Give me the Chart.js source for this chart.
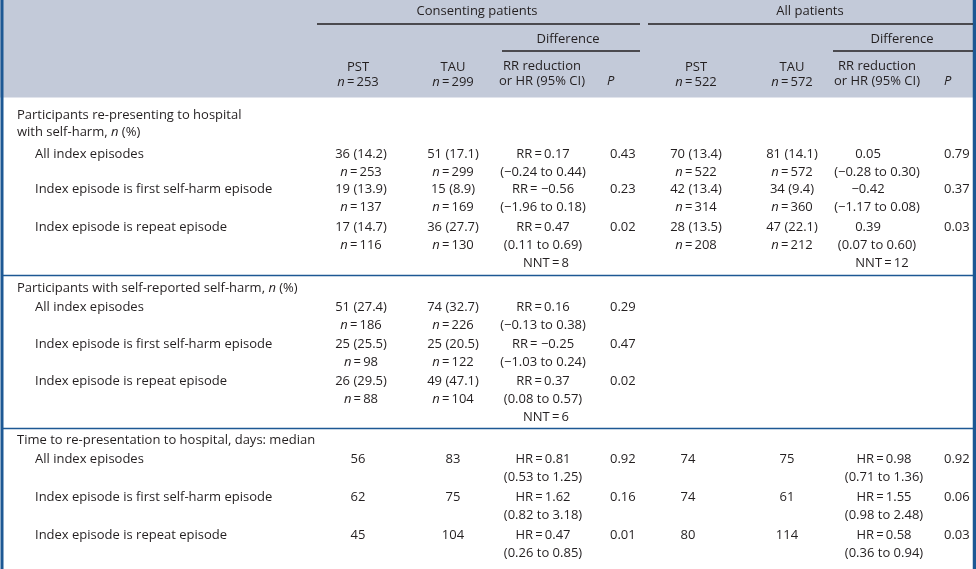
<!DOCTYPE html>
<html>
<head>
<meta charset="utf-8">
<script src="https://cdn.jsdelivr.net/npm/chart.js@4.4.1/dist/chart.umd.min.js"></script>
<style>
  html, body { margin: 0; padding: 0; background: #fff; }
  #wrap { width: 976px; height: 569px; }
</style>
</head>
<body>
<div id="wrap"><canvas id="table1"></canvas></div>
<script>
// table data ("*" toggles italic)

const groupTitles = ["Consenting patients", "All patients"];
const headNumbers = { con: [253, 299], all: [522, 572] };

const sectionTitles = [
  ["Participants re-presenting to hospital", "with self-harm, *n* (%)"],
  ["Participants with self-reported self-harm, *n* (%)"],
  ["Time to re-presentation to hospital, days: median"]
];
const episodeLabels = ["All index episodes", "Index episode is first self-harm episode", "Index episode is repeat episode"];

// 9 rows: 3 sections x 3 episode types
const conPST  = ["36 (14.2)", "19 (13.9)", "17 (14.7)", "51 (27.4)", "25 (25.5)", "26 (29.5)", "56", "62", "45"];
const conPSTn = [253, 137, 116, 186, 98, 88, null, null, null];
const conTAU  = ["51 (17.1)", "15 (8.9)", "36 (27.7)", "74 (32.7)", "25 (20.5)", "49 (47.1)", "83", "75", "104"];
const conTAUn = [299, 169, 130, 226, 122, 104, null, null, null];
const conEst  = ["RR\u2009=\u20090.17", "RR\u2009= \u22120.56", "RR\u2009=\u20090.47", "RR\u2009=\u20090.16", "RR\u2009= \u22120.25", "RR\u2009=\u20090.37", "HR\u2009=\u20090.81", "HR\u2009=\u20091.62", "HR\u2009=\u20090.47"];
const conCI   = ["(\u22120.24 to 0.44)", "(\u22121.96 to 0.18)", "(0.11 to 0.69)", "(\u22120.13 to 0.38)", "(\u22121.03 to 0.24)", "(0.08 to 0.57)", "(0.53 to 1.25)", "(0.82 to 3.18)", "(0.26 to 0.85)"];
const conNNT  = [null, null, 8, null, null, 6, null, null, null];
const conP    = ["0.43", "0.23", "0.02", "0.29", "0.47", "0.02", "0.92", "0.16", "0.01"];

const allPST  = ["70 (13.4)", "42 (13.4)", "28 (13.5)", "", "", "", "74", "74", "80"];
const allPSTn = [522, 314, 208, null, null, null, null, null, null];
const allTAU  = ["81 (14.1)", "34 (9.4)", "47 (22.1)", "", "", "", "75", "61", "114"];
const allTAUn = [572, 360, 212, null, null, null, null, null, null];
const allEst  = ["0.05", "\u22120.42", "0.39", "", "", "", "HR\u2009=\u20090.98", "HR\u2009=\u20091.55", "HR\u2009=\u20090.58"];
const allCI   = ["(\u22120.28 to 0.30)", "(\u22121.17 to 0.08)", "(0.07 to 0.60)", "", "", "", "(0.71 to 1.36)", "(0.98 to 2.48)", "(0.36 to 0.94)"];
const allNNT  = [null, null, 12, null, null, null, null, null, null];
const allP    = ["0.79", "0.37", "0.03", "", "", "", "0.92", "0.06", "0.03"];

// layout (scale units, one per pixel) - per section where it shifts
const colX = {
  conPST: [361, 361, 358], conTAU: [453, 453, 453], conDiff: [543, 543, 543], conP: [610, 610, 610],
  allPST: [696, 696, 688], allTAU: [792, 792, 787], allDiff: [877, 877, 884], allEst: [868, 868, 884], allP: [944, 944, 944]
};
const rowY = [154, 189, 227, 307, 344, 381, 459, 497, 535];
const lineGap = 18;
const sectionTitleY = [[115, 132], [288], [440]];
const titleX = 17, labelX = 35;
const headerBottom = 97.5;
const separatorsY = [275.5, 428.5];

const TEXT = "#231f20";
const BLUE = "#1d5894";
const FONT = '"Open Sans", "Noto Sans", sans-serif';
const FONT_SIZE = 13;

const nEq = n => "*n*\u2009=\u2009" + n;
function cell(x, y, text, align) { return { x: x, y: y, text: text, align: align || "center" }; }

const cells = [];
// header
cells.push(cell(477, 11, groupTitles[0]));
cells.push(cell(810, 11, groupTitles[1]));
cells.push(cell(568, 39, "Difference"));
cells.push(cell(902, 39, "Difference"));
[["con", 358, 453, 542, 607], ["all", 696, 792, 877, 944]].forEach(function (g) {
  cells.push(cell(g[1], 67, "PST"));
  cells.push(cell(g[1], 82, nEq(headNumbers[g[0]][0])));
  cells.push(cell(g[2], 67, "TAU"));
  cells.push(cell(g[2], 82, nEq(headNumbers[g[0]][1])));
  cells.push(cell(g[3], 66, "RR reduction"));
  cells.push(cell(g[3], 81, "or HR (95% CI)"));
  cells.push(cell(g[4], 81, "*P*", "left"));
});
// section titles
sectionTitles.forEach(function (lines, s) {
  lines.forEach(function (t, i) { cells.push(cell(titleX, sectionTitleY[s][i], t, "left")); });
});
// body rows
for (let r = 0; r < rowY.length; r++) {
  const s = Math.floor(r / 3);
  const y = rowY[r];
  cells.push(cell(labelX, y, episodeLabels[r % 3], "left"));
  if (conPST[r]) cells.push(cell(colX.conPST[s], y, conPST[r]));
  if (conPSTn[r]) cells.push(cell(colX.conPST[s], y + lineGap, nEq(conPSTn[r])));
  if (conTAU[r]) cells.push(cell(colX.conTAU[s], y, conTAU[r]));
  if (conTAUn[r]) cells.push(cell(colX.conTAU[s], y + lineGap, nEq(conTAUn[r])));
  if (conEst[r]) cells.push(cell(colX.conDiff[s], y, conEst[r]));
  if (conCI[r]) cells.push(cell(colX.conDiff[s], y + lineGap, conCI[r]));
  if (conNNT[r]) cells.push(cell(colX.conDiff[s] + 3, y + 2 * lineGap, "NNT\u2009=\u2009" + conNNT[r]));
  if (conP[r]) cells.push(cell(colX.conP[s], y, conP[r], "left"));
  if (allPST[r]) cells.push(cell(colX.allPST[s], y, allPST[r]));
  if (allPSTn[r]) cells.push(cell(colX.allPST[s], y + lineGap, nEq(allPSTn[r])));
  if (allTAU[r]) cells.push(cell(colX.allTAU[s], y, allTAU[r]));
  if (allTAUn[r]) cells.push(cell(colX.allTAU[s], y + lineGap, nEq(allTAUn[r])));
  if (allEst[r]) cells.push(cell(colX.allEst[s], y, allEst[r]));
  if (allCI[r]) cells.push(cell(colX.allDiff[s], y + lineGap, allCI[r]));
  if (allNNT[r]) cells.push(cell(colX.allDiff[s] + 5, y + 2 * lineGap, "NNT\u2009=\u2009" + allNNT[r]));
  if (allP[r]) cells.push(cell(colX.allP[s], y, allP[r], "left"));
}

function rule(x0, x1, y, color, width) {
  return {
    type: "line", data: [{ x: x0, y: y }, { x: x1, y: y }], showLine: true,
    borderColor: color, borderWidth: width, pointRadius: 0, fill: false, order: 1
  };
}
function vrule(x, color, width) {
  return {
    type: "line", data: [{ x: x, y: 0 }, { x: x, y: 569 }], showLine: true,
    borderColor: color, borderWidth: width, pointRadius: 0, fill: false, order: 1
  };
}

function drawRich(ctx, text, x, y, align) {
  const parts = text.split("*");
  let total = 0;
  parts.forEach(function (p, i) {
    ctx.font = (i % 2 ? "italic " : "") + FONT_SIZE + "px " + FONT;
    total += ctx.measureText(p).width;
  });
  let cx = align === "left" ? x : x - total / 2;
  parts.forEach(function (p, i) {
    ctx.font = (i % 2 ? "italic " : "") + FONT_SIZE + "px " + FONT;
    ctx.fillText(p, cx, y);
    cx += ctx.measureText(p).width;
  });
}

const cellText = {
  id: "cellText",
  afterDatasetsDraw(chart) {
    const ctx = chart.ctx;
    const idx = chart.data.datasets.findIndex(d => d.label === "cells");
    const meta = chart.getDatasetMeta(idx);
    const src = chart.data.datasets[idx].data;
    ctx.save();
    ctx.fillStyle = TEXT;
    ctx.textBaseline = "middle";
    ctx.textAlign = "left";
    meta.data.forEach(function (pt, i) {
      drawRich(ctx, src[i].text, pt.x, pt.y, src[i].align);
    });
    ctx.restore();
  }
};

const datasets = [
  // header shading
  {
    type: "line", data: [{ x: 0, y: headerBottom }, { x: 976, y: headerBottom }], showLine: true,
    borderWidth: 0, borderColor: "rgba(0,0,0,0)", backgroundColor: "#c3cad9",
    fill: { value: 0 }, pointRadius: 0, order: 10
  },
  rule(317, 640, 24, TEXT, 1.5),
  rule(648, 973, 24, TEXT, 1.5),
  rule(502, 640, 51, TEXT, 1.5),
  rule(833, 973, 51, TEXT, 1.5),
  rule(3, 973, separatorsY[0], BLUE, 1.5),
  rule(3, 973, separatorsY[1], BLUE, 1.5),
  vrule(2, BLUE, 3),
  vrule(974.5, BLUE, 3.5),
  { label: "cells", data: cells, pointRadius: 0, showLine: false, order: 0 }
];

new Chart(document.getElementById("table1"), {
  type: "scatter",
  data: { datasets: datasets },
  options: {
    responsive: true,
    maintainAspectRatio: false,
    animation: false,
    events: [],
    layout: { padding: 0 },
    clip: false,
    scales: {
      x: { type: "linear", min: 0, max: 976, display: false },
      y: { type: "linear", min: 0, max: 569, reverse: true, display: false }
    },
    plugins: { legend: { display: false }, tooltip: { enabled: false } }
  },
  plugins: [cellText]
});
</script>
</body>
</html>
